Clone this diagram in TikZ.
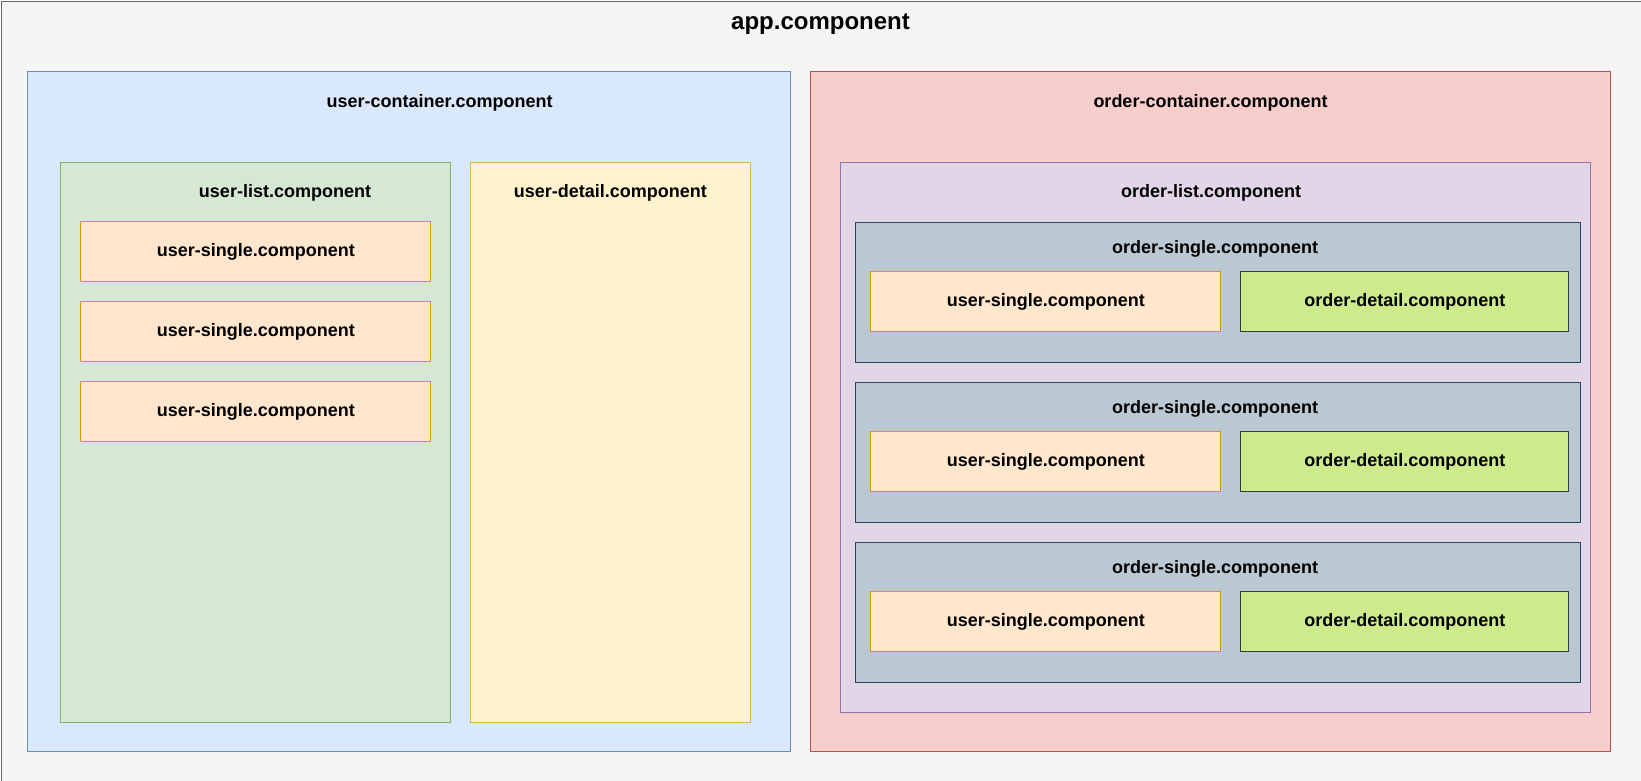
\documentclass[tikz,border=0pt]{standalone}
\usepackage{fontspec}
\setmainfont{Liberation Sans}
\definecolor{appfill}{HTML}{F5F5F5}\definecolor{appline}{HTML}{666666}
\definecolor{ucfill}{HTML}{DAE8FC}\definecolor{ucline}{HTML}{6C8EBF}
\definecolor{ulfill}{HTML}{D5E8D4}\definecolor{ulline}{HTML}{82B366}
\definecolor{udfill}{HTML}{FFF2CC}\definecolor{udline}{HTML}{D6B656}
\definecolor{usfill}{HTML}{FFE6CC}\definecolor{usline}{HTML}{D79B00}
\definecolor{ocfill}{HTML}{F8CECC}\definecolor{ocline}{HTML}{B85450}
\definecolor{olfill}{HTML}{E1D5E7}\definecolor{olline}{HTML}{9673A6}
\definecolor{osfill}{HTML}{BAC8D3}\definecolor{osline}{HTML}{23445D}
\definecolor{odfill}{HTML}{CDEB8B}\definecolor{odline}{HTML}{36393D}
\tikzset{
  box/.style={rectangle, anchor=north west, inner sep=0pt, line width=1pt, font=\fontsize{18}{22}\selectfont\bfseries},
  title/.style={inner sep=0pt, font=\fontsize{18}{22}\selectfont\bfseries},
  appbox/.style={box, fill=appfill, draw=appline},
  ucbox/.style={box, fill=ucfill, draw=ucline},
  ulbox/.style={box, fill=ulfill, draw=ulline},
  udbox/.style={box, fill=udfill, draw=udline},
  usbox/.style={box, fill=usfill, draw=usline, minimum width=350pt, minimum height=60pt},
  ocbox/.style={box, fill=ocfill, draw=ocline},
  olbox/.style={box, fill=olfill, draw=olline},
  osbox/.style={box, fill=osfill, draw=osline, minimum width=725pt, minimum height=140pt},
  odbox/.style={box, fill=odfill, draw=odline, minimum width=328pt, minimum height=60pt},
}
\begin{document}
\begin{tikzpicture}[x=1pt,y=-1pt]
\useasboundingbox (0,0) rectangle (1641,780);
\clip (0,0) rectangle (1641,780);
\fill[white] (0,0) rectangle (1641,780);
\node[appbox, minimum width=1640pt, minimum height=820pt] (app) at (0.5,1) {};
\node[title, font=\fontsize{24}{28}\selectfont\bfseries] (apptitle) at (820.5,24) {app.component};
% user side
\node[ucbox, minimum width=763pt, minimum height=680pt] (uc) at (27.3,71.3) {};
\node[title] (uctitle) at (439.6,103) {user-container.component};
\node[ulbox, minimum width=390pt, minimum height=560pt] (ul) at (60.3,161.7) {};
\node[title] (ultitle) at (285,193) {user-list.component};
\node[udbox, minimum width=280pt, minimum height=560pt] (ud) at (470.3,161.7) {};
\node[title] (udtitle) at (610.4,193) {user-detail.component};
\node[usbox] (us1) at (80.3,221.3) {user-single.component};
\node[usbox] (us2) at (80.3,301.3) {user-single.component};
\node[usbox] (us3) at (80.3,381.3) {user-single.component};
% order side
\node[ocbox, minimum width=800pt, minimum height=680pt] (oc) at (810.3,71.3) {};
\node[title] (octitle) at (1210.5,103) {order-container.component};
\node[olbox, minimum width=750pt, minimum height=550pt] (ol) at (840.3,161.7) {};
\node[title] (oltitle) at (1211,193) {order-list.component};
\foreach \i/\y in {1/221.7,2/381.7,3/541.7}{
  \node[osbox] (os\i) at (855.3,\y) {};
  \node[title] (ost\i) at (1215,\y+27) {order-single.component};
  \node[usbox] (ous\i) at (870.3,\y+49.6) {user-single.component};
  \node[odbox] (od\i) at (1240.3,\y+49.6) {order-detail.component};
}
\end{tikzpicture}
\end{document}
